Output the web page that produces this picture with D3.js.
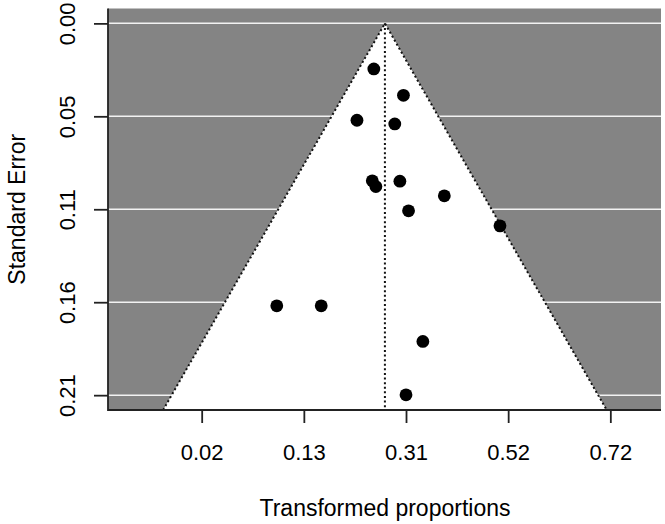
<!DOCTYPE html>
<html>
<head>
<meta charset="utf-8">
<script src="https://d3js.org/d3.v7.min.js"></script>
<style>
  body { margin: 0; background: #fff; }
  text { font-family: "Liberation Sans", Arial, sans-serif; fill: #000; }
</style>
</head>
<body>
<script>
// transformed effect sizes and their standard errors
var yi  = [0.437, 0.495, 0.404, 0.478, 0.434, 0.441, 0.488, 0.575, 0.505, 0.684, 0.247, 0.334, 0.533, 0.500];
var sei = [0.0261, 0.0412, 0.0555, 0.0576, 0.0902, 0.0935, 0.0904, 0.0988, 0.1074, 0.1160, 0.1618, 0.1618, 0.1822, 0.2128];
var estimate = 0.4587;

// axis ticks (x labels are back-transformed proportions)
var xTickVals = [0.1, 0.3, 0.5, 0.7, 0.9];
var xTickLabels = ["0.02", "0.13", "0.31", "0.52", "0.72"];
var yTickVals = [0, 0.05325, 0.1065, 0.15975, 0.213];
var yTickLabels = ["0.00", "0.05", "0.11", "0.16", "0.21"];

var width = 665, height = 524;
var pLeft = 108, pRight = 661, pTop = 8.5, pBottom = 410;

var svg = d3.select("body").append("svg")
  .attr("width", width)
  .attr("height", height);

var x = d3.scaleLinear().domain([-0.0834, 0.9992]).range([pLeft, pRight]);
var y = d3.scaleLinear().domain([-0.00852, 0.2215]).range([pTop, pBottom]);

var seMax = y.domain()[1];

// gray background
svg.append("rect")
  .attr("x", pLeft).attr("y", pTop)
  .attr("width", pRight - pLeft).attr("height", pBottom - pTop)
  .attr("fill", "#848484");

// white horizontal reference lines
svg.selectAll(".hline").data(yTickVals).enter().append("line")
  .attr("x1", pLeft).attr("x2", pRight)
  .attr("y1", function(d) { return y(d); })
  .attr("y2", function(d) { return y(d); })
  .attr("stroke", "#f2f2f2")
  .attr("stroke-width", 1.5);

// funnel region
var funnel = [[estimate - 1.96 * seMax, seMax], [estimate, 0], [estimate + 1.96 * seMax, seMax]];
var line = d3.line().x(function(d) { return x(d[0]); }).y(function(d) { return y(d[1]); });
svg.append("path")
  .attr("d", line(funnel) + "Z")
  .attr("fill", "#fff");

svg.append("path")
  .attr("d", line(funnel))
  .attr("fill", "none")
  .attr("stroke", "#111")
  .attr("stroke-width", 2)
  .attr("stroke-dasharray", "2,2.6");

// vertical line at the estimate
svg.append("line")
  .attr("x1", x(estimate)).attr("x2", x(estimate))
  .attr("y1", y(0)).attr("y2", y(seMax))
  .attr("stroke", "#111")
  .attr("stroke-width", 2)
  .attr("stroke-dasharray", "2,2.6");

// points
svg.selectAll(".dot").data(yi).enter().append("circle")
  .attr("class", "dot")
  .attr("cx", function(d) { return x(d); })
  .attr("cy", function(d, i) { return y(sei[i]); })
  .attr("r", 6.4)
  .attr("fill", "#000");

// box (left and bottom)
svg.append("path")
  .attr("d", "M" + pLeft + "," + pTop + "V" + pBottom + "H" + pRight)
  .attr("fill", "none")
  .attr("stroke", "#222")
  .attr("stroke-width", 1.8);

// x axis
var xAxis = svg.append("g")
  .attr("transform", "translate(0," + pBottom + ")")
  .call(d3.axisBottom(x).tickValues(xTickVals).tickSize(13).tickPadding(21)
    .tickFormat(function(d, i) { return xTickLabels[i]; }));
xAxis.select(".domain").remove();
xAxis.selectAll("line").attr("stroke", "#222").attr("stroke-width", 1.8);
xAxis.selectAll("text").style("font-size", "22px").attr("font-family", null);

// y axis
var yAxis = svg.append("g")
  .attr("transform", "translate(" + pLeft + ",0)")
  .call(d3.axisLeft(y).tickValues(yTickVals).tickSize(14).tickSizeOuter(0)
    .tickFormat(function(d, i) { return yTickLabels[i]; }));
yAxis.select(".domain").remove();
yAxis.selectAll("line").attr("stroke", "#222").attr("stroke-width", 1.8);
yAxis.selectAll("text")
  .style("font-size", "22px").attr("font-family", null)
  .attr("x", null).attr("dy", null)
  .attr("text-anchor", "middle")
  .attr("transform", "translate(-33,0) rotate(-90)");

// axis titles
svg.append("text")
  .attr("x", (pLeft + pRight) / 2 + 0.5)
  .attr("y", 516)
  .attr("text-anchor", "middle")
  .style("font-size", "23px")
  .text("Transformed proportions");

svg.append("text")
  .attr("transform", "translate(25," + ((pTop + pBottom) / 2) + ") rotate(-90)")
  .attr("text-anchor", "middle")
  .style("font-size", "23px")
  .text("Standard Error");
</script>
</body>
</html>
